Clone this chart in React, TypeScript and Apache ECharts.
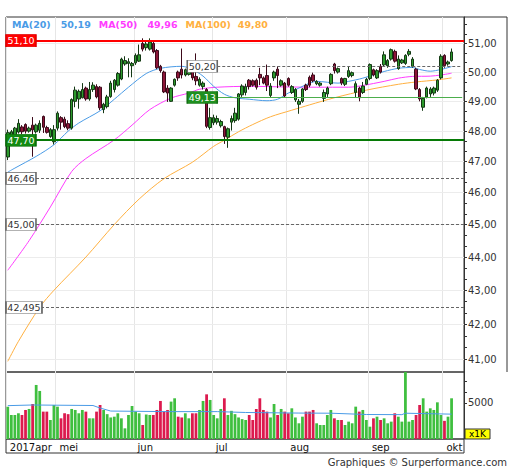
import React, { useEffect, useRef } from 'react';
import * as echarts from 'echarts';

const FONT = '"DejaVu Sans", Verdana, sans-serif';

// ---- calendar ----
const FIRST_DAY = '2017-04-07';
const LAST_DAY = '2017-10-09';
const HOLIDAYS = ['2017-04-14', '2017-04-17', '2017-05-01'];
const MONTHS_NL = ['jan', 'feb', 'mrt', 'apr', 'mei', 'jun', 'jul', 'aug', 'sep', 'okt', 'nov', 'dec'];

// ---- daily candles: [open, close, low, high] ----
const candles: number[][] = [
  [47.15, 47.95, 47.05, 48.05], [47.82, 47.98, 47.78, 48.04], [47.85, 48.10, 47.80, 48.14], [47.97, 48.26, 47.92, 48.40],
  [48.14, 47.98, 47.90, 48.20], [48.22, 48.00, 47.92, 48.26], [48.00, 48.10, 47.95, 48.15], [48.20, 48.04, 47.16, 48.47],
  [47.98, 48.20, 47.92, 48.25], [48.03, 48.26, 47.94, 48.36], [48.49, 48.13, 47.94, 48.52], [48.12, 47.96, 47.92, 48.18],
  [47.82, 48.05, 47.78, 48.10], [47.65, 48.05, 47.56, 48.20], [48.10, 48.60, 48.02, 48.66], [48.45, 48.30, 48.05, 48.50],
  [48.40, 48.15, 48.10, 48.48], [48.25, 48.10, 48.03, 48.36], [48.10, 49.06, 48.05, 49.10], [49.00, 49.38, 48.80, 49.50],
  [49.08, 49.34, 48.75, 49.40], [49.12, 49.40, 49.10, 49.62], [49.45, 49.08, 49.02, 49.50], [49.08, 49.40, 49.02, 49.66],
  [49.40, 49.55, 49.32, 49.65], [49.50, 49.15, 49.10, 49.58], [49.48, 48.78, 48.70, 49.52], [48.72, 48.90, 48.60, 48.95],
  [48.82, 49.15, 48.76, 49.22], [49.16, 49.62, 49.12, 49.70], [49.40, 49.72, 49.30, 49.76], [49.55, 49.95, 49.50, 50.00],
  [49.76, 50.45, 49.72, 50.50], [50.28, 50.40, 50.22, 50.55], [50.30, 50.36, 49.82, 50.48], [50.22, 50.30, 49.82, 50.35],
  [50.32, 50.58, 50.25, 50.65], [50.38, 50.60, 50.35, 50.96], [51.00, 50.80, 50.72, 51.18], [50.85, 50.98, 50.75, 51.10],
  [50.80, 51.05, 50.75, 51.18], [51.00, 50.70, 50.65, 51.10], [50.75, 50.15, 50.10, 50.80], [50.20, 50.05, 49.98, 50.25],
  [50.00, 49.32, 49.28, 50.05], [49.45, 49.28, 48.98, 49.55], [49.00, 49.45, 48.98, 49.48], [49.55, 49.75, 49.50, 49.78],
  [50.00, 49.80, 49.70, 50.05], [50.10, 49.90, 49.78, 50.82], [49.90, 50.08, 49.85, 50.12], [49.92, 50.06, 49.88, 50.10],
  [50.05, 49.80, 49.72, 50.10], [49.85, 49.70, 49.55, 50.65], [49.55, 49.75, 49.50, 49.82], [49.50, 49.62, 49.40, 49.68],
  [49.40, 48.16, 48.10, 49.45], [48.12, 48.45, 48.05, 48.78], [48.28, 48.45, 48.20, 48.55], [48.30, 48.42, 48.22, 48.52],
  [48.18, 48.32, 48.12, 48.38], [48.15, 47.82, 47.58, 48.18], [47.80, 48.08, 47.45, 48.12], [48.30, 48.42, 48.02, 48.52],
  [48.35, 48.60, 48.28, 48.78], [48.40, 49.25, 48.35, 49.28], [49.22, 49.52, 49.15, 49.58], [49.30, 49.50, 49.20, 49.60],
  [49.72, 49.50, 49.40, 49.76], [49.70, 49.55, 49.50, 49.75], [49.72, 49.48, 49.40, 49.78], [49.92, 49.80, 49.55, 50.15],
  [49.80, 49.62, 49.58, 49.85], [49.88, 49.55, 49.35, 50.26], [49.20, 49.52, 49.12, 49.62], [49.80, 50.00, 49.70, 50.05],
  [50.10, 49.88, 49.45, 50.20], [49.55, 49.70, 49.50, 49.75], [49.62, 49.18, 49.12, 49.66], [49.78, 49.55, 49.50, 49.82],
  [49.30, 49.50, 49.25, 49.55], [49.05, 49.40, 48.98, 49.45], [48.90, 49.00, 48.58, 49.08], [49.00, 49.42, 48.95, 49.45],
  [49.55, 49.40, 49.35, 49.60], [49.82, 49.55, 49.48, 49.88], [49.90, 49.70, 49.65, 49.98], [49.60, 49.68, 49.55, 49.72],
  [49.55, 49.62, 49.50, 49.66], [49.10, 49.30, 48.98, 49.40], [49.25, 49.45, 49.15, 49.50], [49.60, 49.92, 49.55, 49.96],
  [50.28, 50.05, 49.95, 50.32], [50.00, 50.12, 49.95, 50.16], [49.78, 49.62, 49.55, 49.82], [49.58, 49.78, 49.52, 49.80],
  [49.85, 50.05, 49.80, 50.18], [49.88, 49.98, 49.82, 50.02], [49.30, 49.60, 49.12, 49.68], [49.45, 49.12, 49.00, 49.50],
  [49.30, 49.52, 49.25, 49.66], [49.58, 49.75, 49.55, 49.80], [49.78, 50.26, 49.72, 50.30], [50.08, 49.90, 49.85, 50.12],
  [49.80, 50.05, 49.76, 50.10], [50.20, 50.00, 49.95, 50.28], [50.25, 50.60, 50.20, 50.72], [50.22, 50.40, 50.15, 50.45],
  [50.45, 50.78, 50.40, 50.82], [50.72, 50.38, 50.33, 50.78], [50.12, 50.45, 50.08, 50.58], [50.32, 50.42, 50.28, 50.46],
  [50.30, 50.58, 50.25, 50.62], [50.62, 50.72, 50.55, 50.80], [50.20, 50.45, 50.15, 50.52], [50.10, 49.42, 49.38, 50.15],
  [49.40, 49.08, 49.00, 49.45], [48.80, 49.10, 48.68, 49.15], [49.15, 49.45, 49.10, 49.50], [49.25, 49.42, 49.15, 49.48],
  [49.28, 49.45, 49.20, 49.50], [49.38, 49.72, 49.32, 49.76], [49.80, 50.55, 49.75, 50.62], [50.58, 50.22, 50.15, 50.62],
  [50.28, 50.35, 50.22, 50.40], [50.40, 50.70, 50.36, 50.82],
];

// ---- daily volume (x1K) ----
const volumes: number[] = [
  4490, 3330, 3330, 3570, 3330, 4030, 4170, 4860, 7500, 6670,
  3800, 3800, 2640, 4720, 4490, 2870, 3570, 3450, 4170, 4030,
  3570, 4030, 3800, 2870, 2870, 3800, 4720, 4030, 3450, 2990,
  3100, 3570, 2870, 1480, 3330, 4580, 3800, 3570, 1940, 3400,
  3330, 3330, 4030, 5280, 3800, 4030, 5190, 5650, 3100, 2990,
  3570, 2870, 3570, 3570, 4030, 5280, 6200, 5420, 3330, 2870,
  4170, 5650, 3330, 3910, 3450, 2990, 2760, 2640, 3330, 2640,
  4170, 5650, 4030, 3800, 2990, 4860, 3330, 4170, 3800, 3570,
  4260, 2990, 2180, 3100, 3800, 3800, 4030, 2180, 1940, 1940,
  3330, 4030, 2870, 2640, 2640, 1940, 2410, 2180, 4490, 3800,
  4030, 2640, 1710, 2870, 3100, 2640, 2870, 2180, 2410, 3570,
  3100, 2410, 9300, 2410, 2640, 3330, 4720, 5650, 3800, 4260,
  4030, 5090, 3330, 2520, 3100, 5650,
];

// ---- moving averages: [day index, value] ----
const ma20Pts: number[][] = [
  [0, 46.66], [2, 46.79], [8, 47.17], [13, 47.55], [17, 48.0], [20, 48.27], [26, 48.68], [30, 49.07], [34, 49.48],
  [39, 49.95], [43, 50.13], [49, 50.2], [52, 50.09], [55, 49.86], [58, 49.51], [61, 49.24], [64, 49.12], [68, 49.07],
  [73, 49.02], [76, 49.07], [79, 49.28], [82, 49.45], [85, 49.62], [87, 49.68], [93, 49.62], [96, 49.68], [100, 49.79],
  [106, 50.02], [110, 50.13], [114, 50.16], [116, 50.09], [119, 50.03], [122, 50.09], [125, 50.19],
];
const ma50Pts: number[][] = [
  [0, 43.6], [6, 44.5], [12, 45.55], [18, 46.68], [22, 47.1], [30, 47.71], [35, 48.2], [40, 48.72], [46, 49.11],
  [51, 49.28], [54, 49.41], [59, 49.48], [68, 49.51], [78, 49.49], [87, 49.48], [96, 49.48], [100, 49.54],
  [106, 49.68], [110, 49.79], [114, 49.85], [119, 49.86], [122, 49.9], [125, 49.96],
];
const ma100Pts: number[][] = [
  [0, 40.94], [3, 41.51], [9, 42.5], [13, 43.0], [22, 44.0], [30, 45.0], [37, 45.8], [44, 46.45], [52, 46.98],
  [58, 47.5], [61, 47.7], [65, 47.98], [69, 48.22], [74, 48.48], [80, 48.7], [85, 48.88], [92, 49.12], [101, 49.38],
  [110, 49.58], [115, 49.66], [121, 49.73], [125, 49.8],
];
const volMaPts: number[][] = [
  [0, 4630], [7, 4720], [24, 4650], [26, 4300], [29, 3880], [45, 3800], [59, 3800], [67, 3680], [82, 3600],
  [91, 3580], [101, 3400], [111, 3380], [112, 3580], [125, 3450],
];

// ---- price levels ----
const RESISTANCE = 51.1;
const SUPPORT = 47.7;
const LEVEL_HIGH = 50.2;
const LEVEL_LOW = 49.13;
const LEVEL_START_DAY = '2017-07-04';
const DASHED_LEVELS = [46.46, 45.0, 42.495];

// ---- axes ----
const PRICE_MIN = 40.64;
const PRICE_MAX = 51.94;
const PRICE_LABELS = [41, 42, 43, 44, 45, 46, 47, 48, 49, 50, 51];
const VOL_MAX = 9300;
const VOL_LABELS = [5000];
const VOL_TICKS = [5000, 6500, 8000];

const C_MA20 = '#4a9be6';
const C_MA50 = '#ff3cff';
const C_MA100 = '#ffb040';

function fmt(v: number): string {
  const s = Math.abs(v * 100 - Math.round(v * 100)) < 1e-6 ? v.toFixed(2) : String(v);
  return s.replace('.', ',');
}

function buildDays(): string[] {
  const out: string[] = [];
  const d = new Date(FIRST_DAY + 'T00:00:00Z');
  const end = new Date(LAST_DAY + 'T00:00:00Z');
  while (d.getTime() <= end.getTime()) {
    const wd = d.getUTCDay();
    const s = d.toISOString().slice(0, 10);
    if (wd !== 0 && wd !== 6 && HOLIDAYS.indexOf(s) < 0) out.push(s);
    d.setUTCDate(d.getUTCDate() + 1);
  }
  return out;
}

export default function App() {
  const ref = useRef<HTMLDivElement>(null);
  useEffect(() => {
    if (!ref.current) return;
    const chart = echarts.init(ref.current, null, { renderer: 'svg' });
    const days = buildDays();
    const monthStart = new Set<number>();
    days.forEach((d, i) => {
      if (i === 0 || d.slice(0, 7) !== days[i - 1].slice(0, 7)) monthStart.add(i);
    });
    const levelStart = days.indexOf(LEVEL_START_DAY);
    const lastIdx = days.length - 1;

    const tickVals: number[] = [];
    for (let n = PRICE_LABELS[0]; n <= PRICE_LABELS[PRICE_LABELS.length - 1]; n++) {
      tickVals.push(n, n + 1 / 3, n + 2 / 3);
    }

    const up = (c: number[]) => c[1] >= c[0];
    const volData = volumes.map((v, i) => ({
      value: v,
      itemStyle: { color: up(candles[i]) ? '#3fbf3f' : '#dc1a4e' },
    }));

    const boxW = (v: number) => fmt(v).length * 6;
    const leftBox = (v: number, fill: string, stroke: string, text: string) => ({
      coord: [0, v],
      value: v,
      symbol: 'rect',
      symbolSize: [boxW(v), 12],
      symbolOffset: [boxW(v) / 2 - 1.8, 0],
      itemStyle: { color: fill, borderColor: stroke, borderWidth: 1 },
      label: { color: text },
    });
    const rightBox = (v: number, fill: string, stroke: string, text: string) => ({
      coord: [levelStart, v],
      value: v,
      symbol: 'rect',
      symbolSize: [boxW(v), 12],
      symbolOffset: [-boxW(v) / 2, 0],
      itemStyle: { color: fill, borderColor: stroke, borderWidth: 1 },
      label: { color: text },
    });

    const dashStyle = { color: '#666', width: 1, type: [3, 2] };

    const option: any = {
      animation: false,
      backgroundColor: '#ffffff',
      textStyle: { fontFamily: FONT },
      title: {
        left: 12,
        top: 19,
        padding: 0,
        text:
          `{a|MA(20)}{av|${fmt(ma20Pts[ma20Pts.length - 1][1])}}` +
          `{b|MA(50)}{bv|${fmt(ma50Pts[ma50Pts.length - 1][1])}}` +
          `{c|MA(100)}{cv|${fmt(ma100Pts[ma100Pts.length - 1][1])}}`,
        textStyle: {
          fontSize: 9.5,
          fontFamily: FONT,
          rich: {
            a: { color: C_MA20, fontSize: 9.5, fontFamily: FONT, padding: [0, 10, 0, 0] },
            av: { color: C_MA20, fontSize: 9.5, fontFamily: FONT, padding: [0, 8, 0, 0] },
            b: { color: C_MA50, fontSize: 9.5, fontFamily: FONT, padding: [0, 10, 0, 0] },
            bv: { color: C_MA50, fontSize: 9.5, fontFamily: FONT, padding: [0, 8, 0, 0] },
            c: { color: C_MA100, fontSize: 9.5, fontFamily: FONT, padding: [0, 7, 0, 0] },
            cv: { color: C_MA100, fontSize: 9.5, fontFamily: FONT },
          },
        },
      },
      grid: [
        { left: 6, top: 17, width: 458, height: 355, show: true, borderColor: '#333', borderWidth: 1 },
        { left: 6, top: 372, width: 458, height: 67, show: true, borderColor: '#333', borderWidth: 1 },
      ],
      xAxis: [
        {
          type: 'category', gridIndex: 0, data: days, boundaryGap: true,
          axisLine: { show: false }, axisTick: { show: false }, axisLabel: { show: false },
          splitLine: { show: true, interval: (i: number) => monthStart.has(i), lineStyle: { color: '#e6e6e6', width: 1 } },
        },
        {
          type: 'category', gridIndex: 1, data: days, boundaryGap: true,
          axisLine: { show: false }, axisTick: { show: false },
          axisLabel: {
            show: true,
            interval: (i: number) => monthStart.has(i),
            formatter: (v: string, i: number) => {
              const m = MONTHS_NL[parseInt(v.slice(5, 7), 10) - 1];
              return i === 0 ? v.slice(0, 4) + m : m;
            },
            align: 'left', margin: 3, padding: [0, 0, 0, 2],
            color: '#111', fontSize: 10, fontFamily: FONT,
          },
          splitLine: { show: true, interval: (i: number) => monthStart.has(i), lineStyle: { color: '#e6e6e6', width: 1 } },
        },
      ],
      yAxis: [
        {
          type: 'log', logBase: 10, gridIndex: 0, position: 'right', min: PRICE_MIN, max: PRICE_MAX,
          axisLine: { show: true, lineStyle: { color: '#333' } },
          axisTick: { show: true, length: 3, customValues: tickVals, lineStyle: { color: '#333' } },
          axisLabel: {
            show: true, customValues: PRICE_LABELS, formatter: (v: number) => fmt(v),
            color: '#333', fontSize: 10, fontFamily: FONT, margin: 4,
          },
          splitLine: { show: false },
        },
        {
          type: 'value', gridIndex: 1, position: 'right', min: 0, max: VOL_MAX,
          axisLine: { show: true, lineStyle: { color: '#333' } },
          axisTick: { show: true, length: 3, customValues: VOL_TICKS, lineStyle: { color: '#333' } },
          axisLabel: {
            show: true, customValues: VOL_LABELS, formatter: (v: number) => String(v),
            color: '#333', fontSize: 10, fontFamily: FONT, margin: 4,
          },
          splitLine: { show: false },
        },
      ],
      series: [
        {
          name: 'MA(100)', type: 'line', xAxisIndex: 0, yAxisIndex: 0, data: ma100Pts,
          smooth: 0.3, showSymbol: false, symbol: 'none', lineStyle: { color: C_MA100, width: 1 }, z: 3,
          markLine: {
            silent: true, symbol: ['none', 'none'], z: 1, animation: false,
            label: { show: false },
            lineStyle: { color: '#ececec', width: 1, type: 'solid' },
            data: PRICE_LABELS.map((v) => ({ yAxis: v })),
          },
        },
        {
          name: 'MA(50)', type: 'line', xAxisIndex: 0, yAxisIndex: 0, data: ma50Pts,
          smooth: 0.3, showSymbol: false, symbol: 'none', lineStyle: { color: C_MA50, width: 1 }, z: 3,
        },
        {
          name: 'MA(20)', type: 'line', xAxisIndex: 0, yAxisIndex: 0, data: ma20Pts,
          smooth: 0.3, showSymbol: false, symbol: 'none', lineStyle: { color: C_MA20, width: 1 }, z: 3,
        },
        {
          name: 'price', type: 'candlestick', xAxisIndex: 0, yAxisIndex: 0, data: candles,
          barWidth: 3, z: 4,
          itemStyle: {
            color: '#2c9a2c', color0: '#8c1538',
            borderColor: '#143814', borderColor0: '#3c0a1a', borderWidth: 1,
          },
          markLine: {
            silent: true, symbol: ['none', 'none'], z: 5, animation: false,
            label: { show: false },
            data: [
              ...DASHED_LEVELS.map((v) => ({ yAxis: v, lineStyle: dashStyle })),
              { yAxis: RESISTANCE, lineStyle: { color: '#ff0000', width: 2, type: 'solid' } },
              { yAxis: SUPPORT, lineStyle: { color: '#067a06', width: 2, type: 'solid' } },
              [
                { coord: [levelStart, LEVEL_HIGH], lineStyle: dashStyle },
                { coord: [lastIdx, LEVEL_HIGH] },
              ],
              [
                { coord: [levelStart, LEVEL_LOW], lineStyle: { color: '#4cae4c', width: 1, type: 'solid' } },
                { coord: [lastIdx, LEVEL_LOW] },
              ],
            ],
          },
          markPoint: {
            silent: true, z: 6, animation: false,
            label: {
              show: true, position: 'inside', fontSize: 9.5, fontFamily: FONT,
              formatter: (p: any) => fmt(p.value),
            },
            data: [
              leftBox(RESISTANCE, '#ff0000', '#e00000', '#ffffff'),
              leftBox(SUPPORT, '#128a12', '#0a6a0a', '#ffffff'),
              ...DASHED_LEVELS.map((v) => leftBox(v, '#ffffff', '#666666', '#333333')),
              rightBox(LEVEL_HIGH, '#ffffff', '#666666', '#333333'),
              rightBox(LEVEL_LOW, '#1f8f1f', '#147014', '#ffffff'),
            ],
          },
        },
        {
          name: 'volume', type: 'bar', xAxisIndex: 1, yAxisIndex: 1, data: volData,
          barCategoryGap: '22%', z: 2,
        },
        {
          name: 'volMA', type: 'line', xAxisIndex: 1, yAxisIndex: 1, data: volMaPts,
          showSymbol: false, symbol: 'none', lineStyle: { color: C_MA20, width: 1 }, z: 3,
        },
      ],
      graphic: [
        {
          type: 'rect', silent: true,
          shape: { x: 6, y: 439, width: 458, height: 14 },
          style: { fill: 'none', stroke: '#333', lineWidth: 1 },
        },
        {
          type: 'polyline', silent: true,
          shape: { points: [[464, 17], [507, 17], [507, 372]] },
          style: { fill: 'none', stroke: '#333', lineWidth: 1 },
        },
        {
          type: 'group', silent: true, x: 465, y: 429,
          children: [
            { type: 'rect', shape: { x: 0, y: 0, width: 25, height: 10 }, style: { fill: '#ffff00', stroke: '#333', lineWidth: 1 } },
            {
              type: 'text', x: 12.5, y: 5,
              style: { text: 'x1K', fill: '#000', font: `9px ${FONT}`, align: 'center', verticalAlign: 'middle' },
            },
          ],
        },
        {
          type: 'text', silent: true, x: 507, y: 462,
          style: {
            text: 'Graphiques © Surperformance.com', fill: '#333', font: `10px ${FONT}`,
            align: 'right', verticalAlign: 'middle',
          },
        },
      ],
    };
    chart.setOption(option);
    return () => chart.dispose();
  }, []);
  return (
    <div
      ref={ref}
      style={{ position: 'absolute', left: 0, top: 0, width: 512, height: 470, background: '#fff' }}
    />
  );
}
